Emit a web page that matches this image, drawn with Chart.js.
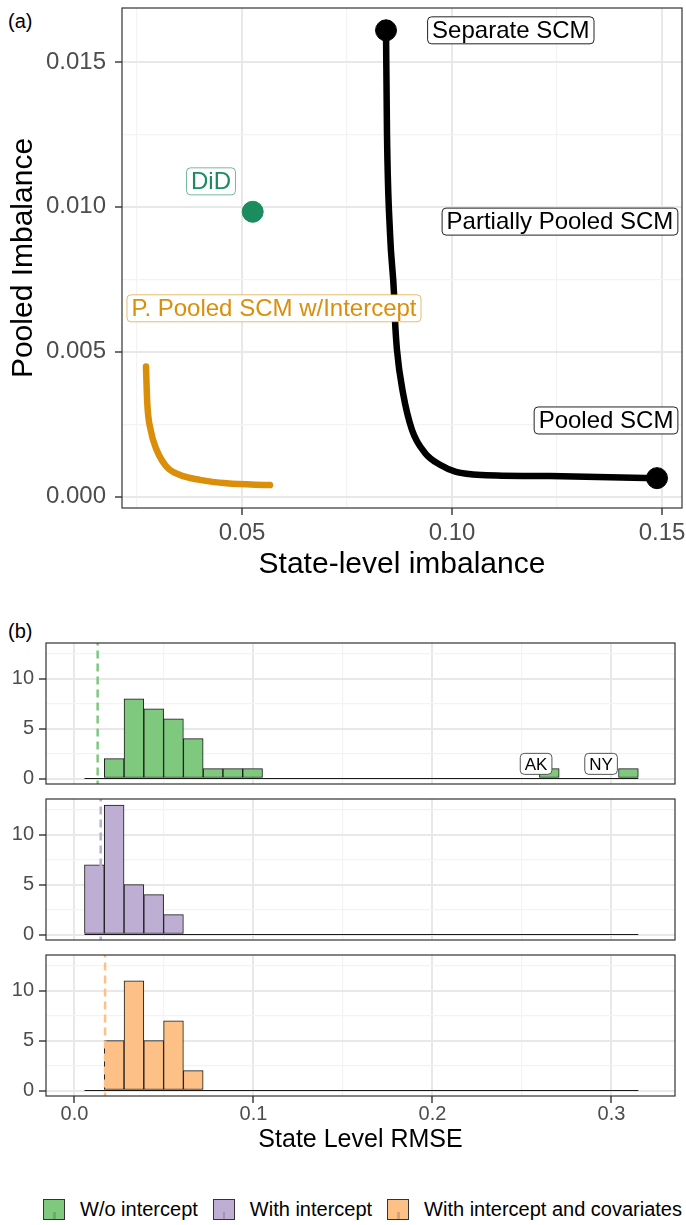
<!DOCTYPE html>
<html>
<head>
<meta charset="utf-8">
<script src="https://cdn.jsdelivr.net/npm/chart.js@4.4.1/dist/chart.umd.min.js"></script>
<style>
  body { margin: 0; width: 686px; height: 1225px; overflow: hidden; background: #fff; position: relative;
         font-family: 'Liberation Sans', Arial, Helvetica, sans-serif; }
  canvas { position: absolute; left: 0; }
  .tag { position: absolute; font-size: 20px; color: #000; }
  #legend { position: absolute; left: 43px; top: 1198px; white-space: nowrap; font-size: 20px; color: #000;
            display: flex; align-items: center; }
  .key { width: 22px; height: 21px; border: 1px solid #333; box-sizing: border-box; position: relative; margin-right: 15px; }
  .key i { position: absolute; left: 9px; bottom: 0; width: 2.5px; height: 7px; }
  .lab { margin-right: 15px; }
</style>
</head>
<body>
<div class="tag" style="left:8px;top:10px">(a)</div>
<div class="tag" style="left:8px;top:620px">(b)</div>
<canvas id="frontier" width="686" height="600" style="top:0"></canvas>
<canvas id="f1" width="686" height="156" style="top:636px"></canvas>
<canvas id="f2" width="686" height="156" style="top:792px"></canvas>
<canvas id="f3" width="686" height="212" style="top:948px"></canvas>
<div id="legend"></div>
<script>
Chart.defaults.font.family = "'Liberation Sans', Arial, Helvetica, sans-serif";
Chart.defaults.color = '#4d4d4d';

// (a) balance frontier
const ppX = [0.08429, 0.08452, 0.08524, 0.08619, 0.08643, 0.0869, 0.08833, 0.09048, 0.09357, 0.09714, 0.10095, 0.10714, 0.12333, 0.14881];
const ppY = [0.01609, 0.01254, 0.00909, 0.00702, 0.00609, 0.00506, 0.00358, 0.0023, 0.00151, 0.0011, 0.00086, 0.00075, 0.00071, 0.00064];
const ppiX = [0.02714, 0.02745, 0.02826, 0.02969, 0.03207, 0.03524, 0.04, 0.04636, 0.05667];
const ppiY = [0.00449, 0.00322, 0.0023, 0.00161, 0.00103, 0.00075, 0.00058, 0.00046, 0.0004];
const didX = [0.05255];
const didY = [0.00983];
const labelText = ['Separate SCM', 'Partially Pooled SCM', 'Pooled SCM', 'DiD', 'P. Pooled SCM w/Intercept'];
const labelX = [0.1140, 0.12571, 0.13667, 0.04262, 0.05762];
const labelY = [0.01609, 0.00949, 0.00263, 0.01088, 0.00650];
const topXTicks = [0.025, 0.05, 0.075, 0.10, 0.125, 0.15];
const topYTicks = [0, 0.0025, 0.005, 0.0075, 0.01, 0.0125, 0.015];

// (b) state level RMSE histograms, 28 bins
const binStart = 0.0056;
const binWidth = 0.01105;
const countsNoInt  = [0, 2, 8, 7, 6, 4, 1, 1, 1, 0, 0, 0, 0, 0, 0, 0, 0, 0, 0, 0, 0, 0, 0, 1, 0, 0, 0, 1];
const countsInt    = [7, 13, 5, 4, 2, 0, 0, 0, 0, 0, 0, 0, 0, 0, 0, 0, 0, 0, 0, 0, 0, 0, 0, 0, 0, 0, 0, 0];
const countsIntCov = [0, 5, 11, 5, 7, 2, 0, 0, 0, 0, 0, 0, 0, 0, 0, 0, 0, 0, 0, 0, 0, 0, 0, 0, 0, 0, 0, 0];
const meanRmse = [0.01295, 0.01466, 0.0171];
const outlierText = ['AK', 'NY'];
const outlierX = [0.2579, 0.2942];
const outlierY = [1.47, 1.47];
const histXTicks = [0, 0.05, 0.1, 0.15, 0.2, 0.25, 0.3];
const histYTicks = [0, 2.5, 5, 7.5, 10, 12.5];
const seriesNames = ['W/o intercept', 'With intercept', 'With intercept and covariates'];

// styles
const labelInk  = ['#000', '#000', '#000', '#1a8c5e', '#db8e0a'];
const labelEdge = ['#222', '#222', '#222', 'rgba(26,140,94,0.6)', 'rgba(219,142,10,0.6)'];
const fills = ['#7fc97f', '#beaed4', '#fdc086'];
const FONT = "'Liberation Sans', Arial, Helvetica, sans-serif";

const isMajor = (v, step) => Math.abs(v / step - Math.round(v / step)) < 1e-6;

function gridFor(step, drawTicks) {
  const maj = c => c.tick && isMajor(c.tick.value, step);
  return {
    offset: false,
    color: c => maj(c) ? '#e8e8e8' : '#f3f3f3',
    lineWidth: c => maj(c) ? 2 : 1.2,
    tickColor: c => maj(c) ? '#333' : 'rgba(0,0,0,0)',
    tickWidth: 1.4,
    tickLength: 7,
    drawTicks: drawTicks
  };
}

// keep the plot area exactly where the layout padding puts it
function fixSize(prop, size) {
  return s => {
    s[prop] = size;
    s.paddingTop = 0; s.paddingBottom = 0; s.paddingLeft = 0; s.paddingRight = 0;
  };
}

const panelBorder = {
  id: 'panelBorder',
  afterDraw(chart) {
    const { ctx, chartArea: a } = chart;
    ctx.save();
    ctx.strokeStyle = '#333';
    ctx.lineWidth = 1.2;
    ctx.strokeRect(a.left, a.top, a.right - a.left, a.bottom - a.top);
    ctx.restore();
  }
};

function drawLabel(ctx, text, px, py, size, h, ink, edge) {
  ctx.font = size + 'px ' + FONT;
  const w = ctx.measureText(text).width + 9;
  ctx.beginPath();
  ctx.roundRect(px - w / 2, py - h / 2, w, h, 4);
  ctx.fillStyle = '#fff';
  ctx.fill();
  ctx.strokeStyle = edge;
  ctx.lineWidth = 1;
  ctx.stroke();
  ctx.fillStyle = ink;
  ctx.textAlign = 'center';
  ctx.textBaseline = 'middle';
  ctx.fillText(text, px, py + 1);
}

const frontierLabels = {
  id: 'frontierLabels',
  afterDatasetsDraw(chart) {
    const { ctx, scales: { x, y } } = chart;
    ctx.save();
    labelText.forEach((t, i) => {
      drawLabel(ctx, t, x.getPixelForValue(labelX[i]), y.getPixelForValue(labelY[i]), 24, 27, labelInk[i], labelEdge[i]);
    });
    ctx.restore();
  }
};

const toPts = (xs, ys) => xs.map((v, i) => ({ x: v, y: ys[i] }));
const last = ppX.length - 1;

new Chart(document.getElementById('frontier'), {
  type: 'scatter',
  data: {
    datasets: [
      { data: toPts([ppX[0], ppX[last]], [ppY[0], ppY[last]]), backgroundColor: '#000', borderColor: '#000', pointRadius: 10.5 },
      { data: toPts(didX, didY), backgroundColor: '#1a8c5e', borderColor: '#1a8c5e', pointRadius: 10.5 },
      { data: toPts(ppX, ppY), showLine: true, borderColor: '#000', borderWidth: 6.5, pointRadius: 0,
        cubicInterpolationMode: 'monotone', borderCapStyle: 'round', borderJoinStyle: 'round' },
      { data: toPts(ppiX, ppiY), showLine: true, borderColor: '#db8e0a', borderWidth: 6.5, pointRadius: 0,
        cubicInterpolationMode: 'monotone', borderCapStyle: 'round', borderJoinStyle: 'round' }
    ]
  },
  options: {
    responsive: false,
    animation: false,
    devicePixelRatio: 1,
    layout: { autoPadding: false, padding: { top: 8, right: 4, left: 0, bottom: 0 } },
    plugins: { legend: { display: false }, tooltip: { enabled: false } },
    scales: {
      x: {
        type: 'linear', min: 0.02143, max: 0.15476,
        afterBuildTicks: s => { s.ticks = topXTicks.map(v => ({ value: v })); },
        afterFit: fixSize('height', 92),
        grid: gridFor(0.05, true),
        border: { display: false },
        ticks: { autoSkip: false, maxRotation: 0, padding: 4, color: '#4d4d4d',
                 font: { size: 24, lineHeight: 1.2 },
                 callback: v => isMajor(v, 0.05) ? v.toFixed(2) : '' },
        title: { display: true, text: 'State-level imbalance', color: '#000',
                 font: { size: 30, lineHeight: 1 }, padding: { top: 0, bottom: 20 } }
      },
      y: {
        type: 'linear', min: -0.00039, max: 0.01686,
        afterBuildTicks: s => { s.ticks = topYTicks.map(v => ({ value: v })); },
        afterFit: fixSize('width', 122),
        grid: gridFor(0.005, true),
        border: { display: false },
        ticks: { autoSkip: false, padding: 9, color: '#4d4d4d', font: { size: 24 },
                 callback: v => isMajor(v, 0.005) ? v.toFixed(3) : '' },
        title: { display: true, text: 'Pooled Imbalance', color: '#000',
                 font: { size: 30, lineHeight: 1 }, padding: { top: 9, bottom: 0 } }
      }
    }
  },
  plugins: [panelBorder, frontierLabels]
});

const binCenters = countsNoInt.map((_, i) => binStart + binWidth * (i + 0.5));
const binEnd = binStart + binWidth * countsNoInt.length;

const outlierLabels = {
  id: 'outlierLabels',
  afterDatasetsDraw(chart) {
    if (chart.canvas.id !== 'f1') return;
    const { ctx, scales: { x, y } } = chart;
    ctx.save();
    outlierText.forEach((t, i) => {
      drawLabel(ctx, t, x.getPixelForValue(outlierX[i]), y.getPixelForValue(outlierY[i]), 17, 21, '#000', '#555');
    });
    ctx.restore();
  }
};

function facet(id, counts, k, showX) {
  new Chart(document.getElementById(id), {
    type: 'bar',
    data: {
      datasets: [
        { type: 'line', data: [{ x: meanRmse[k], y: -1 }, { x: meanRmse[k], y: 15 }],
          borderColor: fills[k], borderWidth: 2.5, borderDash: [8, 5], pointRadius: 0 },
        { data: counts.map((c, i) => ({ x: binCenters[i], y: c })),
          backgroundColor: fills[k], borderColor: '#1a1a1a', borderWidth: 1, borderSkipped: false,
          categoryPercentage: 1, barPercentage: 1 },
        { type: 'line', data: [{ x: binStart, y: 0 }, { x: binEnd, y: 0 }],
          borderColor: '#1a1a1a', borderWidth: 1.2, pointRadius: 0 }
      ]
    },
    options: {
      responsive: false,
      animation: false,
      devicePixelRatio: 1,
      layout: { autoPadding: false, padding: { top: 7, right: 11, left: 0, bottom: showX ? 0 : 8 } },
      plugins: { legend: { display: false }, tooltip: { enabled: false } },
      scales: {
        x: {
          type: 'linear', min: -0.0159, max: 0.3355, offset: false,
          afterBuildTicks: s => { s.ticks = histXTicks.map(v => ({ value: v })); },
          afterFit: fixSize('height', showX ? 64 : 0),
          grid: gridFor(0.1, showX),
          border: { display: false },
          ticks: { display: showX, autoSkip: false, maxRotation: 0, padding: 0, color: '#4d4d4d',
                   font: { size: 20, lineHeight: 1.1 },
                   callback: v => isMajor(v, 0.1) ? v.toFixed(1) : '' },
          title: { display: showX, text: 'State Level RMSE', color: '#000',
                   font: { size: 25, lineHeight: 1 }, padding: { top: 0, bottom: 7 } }
        },
        y: {
          type: 'linear', min: -0.55, max: 13.6,
          afterBuildTicks: s => { s.ticks = histYTicks.map(v => ({ value: v })); },
          afterFit: fixSize('width', 46),
          grid: gridFor(5, true),
          border: { display: false },
          ticks: { autoSkip: false, padding: 5, color: '#4d4d4d', font: { size: 20 },
                   callback: v => isMajor(v, 5) ? String(v) : '' }
        }
      }
    },
    plugins: [panelBorder, outlierLabels]
  });
}

facet('f1', countsNoInt, 0, false);
facet('f2', countsInt, 1, false);
facet('f3', countsIntCov, 2, true);

const legend = document.getElementById('legend');
seriesNames.forEach((name, k) => {
  const key = document.createElement('div');
  key.className = 'key';
  key.style.background = fills[k];
  const tick = document.createElement('i');
  tick.style.background = fills[k];
  tick.style.filter = 'brightness(0.85)';
  key.appendChild(tick);
  const lab = document.createElement('span');
  lab.className = 'lab';
  lab.textContent = name;
  legend.appendChild(key);
  legend.appendChild(lab);
});
</script>
</body>
</html>
